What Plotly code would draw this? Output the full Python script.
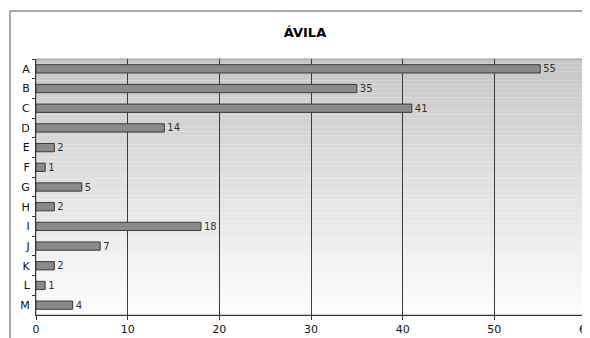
import plotly.graph_objects as go

categories = ["A", "B", "C", "D", "E", "F", "G", "H", "I", "J", "K", "L", "M"]
values = [55, 35, 41, 14, 2, 1, 5, 2, 18, 7, 2, 1, 4]
x_ticks = [0, 10, 20, 30, 40, 50, 60]
title_text = "ÁVILA"

# page body has an 8px margin; figure is sized/offset to compensate
OFF = 8
W, H = 590 - OFF, 338 - OFF
L, R, T, B = 36 - OFF, 4, 59 - OFF, 23

fig = go.Figure()
fig.add_trace(go.Bar(
    y=categories, x=values, orientation="h",
    marker=dict(color="#8a8a8a", line=dict(color="#3a3a3a", width=1)),
    text=[str(v) for v in values], textposition="outside",
    textfont=dict(family="DejaVu Sans", size=10, color="#333333"),
    constraintext="none",
    cliponaxis=False,
))

shapes = []
n = 60
top_c, bot_c = 198, 253
for i in range(n):
    y0 = 1 - (i + 1) / n
    y1 = 1 - i / n
    c = round(top_c + (bot_c - top_c) * (i + 0.5) / n)
    shapes.append(dict(type="rect", xref="paper", yref="paper", x0=0, x1=1, y0=y0, y1=y1,
                       fillcolor=f"rgb({c},{c},{c})", line=dict(width=0), layer="below"))
shapes.append(dict(type="rect", xref="paper", yref="paper", x0=0, x1=1, y0=0, y1=1,
                   line=dict(color="#9a9a9a", width=1), layer="below"))
pw, ph = W - L - R, H - T - B
shapes.append(dict(type="rect", xref="paper", yref="paper",
                   x0=(10 - OFF - L) / pw, x1=(W + 5 - L) / pw,
                   y0=-(B + 5) / ph, y1=(H - B - (11 - OFF)) / ph,
                   line=dict(color="#555555", width=1), layer="below"))

fig.update_layout(
    width=W, height=H,
    margin=dict(l=L, r=R, t=T, b=B, pad=0, autoexpand=False),
    paper_bgcolor="white", plot_bgcolor="rgba(0,0,0,0)",
    showlegend=False,
    bargap=0.58,
    shapes=shapes,
    title=dict(text=f"<b>{title_text}</b>", x=(305 - OFF) / W, xref="container", xanchor="center",
               y=1 - (32 - OFF) / H, yref="container", yanchor="middle",
               font=dict(family="DejaVu Sans", size=13, color="black")),
    font=dict(family="DejaVu Sans", size=11, color="#111111"),
    xaxis=dict(range=[0, 60], tickvals=x_ticks, ticks="outside", ticklen=4, tickcolor="#333333",
               showgrid=True, gridcolor="#3c3c3c", gridwidth=1, zeroline=False,
               showline=True, linecolor="#333333", linewidth=1, automargin=False,
               ticklabeloverflow="allow",
               tickfont=dict(size=11, color="#111111")),
    yaxis=dict(categoryorder="array", categoryarray=categories, autorange="reversed",
               ticks="outside", ticklen=3, tickcolor="#333333", tickson="boundaries",
               showgrid=False, zeroline=False, automargin=False, ticklabelstandoff=3,
               showline=True, linecolor="#333333", linewidth=1,
               tickfont=dict(size=11, color="#111111")),
)

fig.write_html("out.html")
